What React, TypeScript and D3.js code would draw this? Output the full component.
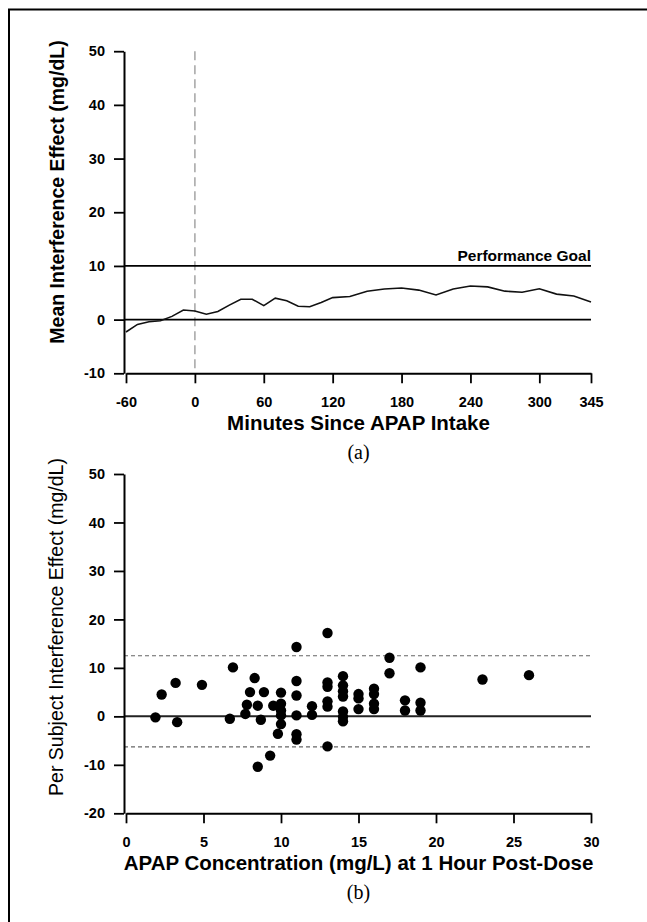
import { useEffect, useRef } from 'react';
import * as d3 from 'd3';

// (a) mean interference effect over time
const minutes = [-60, -50, -40, -30, -20, -10, 0, 10, 20, 30, 40, 50, 60, 70, 80, 90, 100, 110, 120,
  135, 150, 165, 180, 195, 210, 225, 240, 255, 270, 285, 300, 315, 330, 345];
const meanEffect = [-2.3, -0.9, -0.4, -0.2, 0.6, 1.8, 1.6, 1.0, 1.5, 2.7, 3.8, 3.8, 2.6, 4.0, 3.5, 2.5, 2.4, 3.2, 4.1,
  4.3, 5.3, 5.7, 5.9, 5.5, 4.6, 5.7, 6.25, 6.1, 5.3, 5.1, 5.75, 4.75, 4.4, 3.3];
const minuteTicks = [-60, 0, 60, 120, 180, 240, 300, 345];
const effectTicksA = [-10, 0, 10, 20, 30, 40, 50];
const performanceGoal = 10;

// (b) per subject effect vs APAP concentration
const concentration = [1.9, 2.3, 3.2, 3.3, 4.9, 6.9, 6.7, 7.7, 7.8, 8.0, 8.3, 8.5, 8.9, 8.7, 8.5, 9.3, 9.5,
  10, 10, 10, 10, 10, 9.8, 11, 11, 11, 11, 11, 11, 12, 12, 13, 13, 13, 13, 13, 13,
  14, 14, 14, 14, 14, 14, 14, 15, 15, 15, 16, 16, 16, 16, 17, 17, 18, 18, 19, 19, 19, 23, 26];
const subjectEffect = [-0.2, 4.5, 6.9, -1.2, 6.5, 10.1, -0.5, 0.5, 2.4, 5.0, 7.9, 2.2, 5.0, -0.7, -10.4, -8.1, 2.2,
  4.9, 2.6, 1.2, 0.2, -1.6, -3.6, 14.3, 7.3, 4.3, 0.2, -3.7, -4.8, 2.1, 0.3, 17.2, 7.0, 6.1, 3.1, 2.0, -6.2,
  8.3, 6.4, 5.2, 4.1, 1.0, -0.1, -1.0, 4.6, 3.7, 1.5, 5.7, 4.6, 2.6, 1.5, 12.1, 8.9, 3.3, 1.2, 10.1, 2.8, 1.2, 7.6, 8.5];
const concTicks = [0, 5, 10, 15, 20, 25, 30];
const effectTicksB = [-20, -10, 0, 10, 20, 30, 40, 50];
const agreementLimits = [12.5, -6.3];

const W = 647;
const H = 922;
const FONT = "'Liberation Sans', Arial, Helvetica, sans-serif";
const SERIF = "'Liberation Serif', 'Times New Roman', serif";
const AXIS_X = 124;

const plotA = { left: 126, right: 591, top: 51.2, bottom: 373.3 };
const plotB = { left: 126, right: 591, top: 474, bottom: 813.3 };

// plain hyphen for negatives, like the original
const fmt = (d) => String(d);

const styleAxis = (g) => {
  g.attr('font-size', null).attr('font-family', null);
  g.select('.domain').attr('stroke', '#000').attr('stroke-width', 2);
  g.selectAll('.tick line').attr('stroke', '#000').attr('stroke-width', 1.8);
  g.selectAll('.tick text')
    .attr('font-family', FONT)
    .attr('font-size', 14.5)
    .attr('font-weight', 'bold')
    .attr('fill', '#000');
};

export default function App() {
  const xAxisA = useRef(null);
  const yAxisA = useRef(null);
  const xAxisB = useRef(null);
  const yAxisB = useRef(null);

  const xA = d3.scaleLinear().domain([-60, 345]).range([plotA.left, plotA.right]);
  const yA = d3.scaleLinear().domain([-10, 50]).range([plotA.bottom, plotA.top]);
  const xB = d3.scaleLinear().domain([0, 30]).range([plotB.left, plotB.right]);
  const yB = d3.scaleLinear().domain([-20, 50]).range([plotB.bottom, plotB.top]);

  useEffect(() => {
    d3.select(xAxisA.current)
      .call(d3.axisBottom(xA).tickValues(minuteTicks).tickFormat(fmt).tickSize(10).tickSizeOuter(0).tickPadding(13))
      .call(styleAxis);
    d3.select(yAxisA.current)
      .call(d3.axisLeft(yA).tickValues(effectTicksA).tickFormat(fmt).tickSize(10).tickSizeOuter(0).tickPadding(9))
      .call(styleAxis);
    d3.select(xAxisB.current)
      .call(d3.axisBottom(xB).tickValues(concTicks).tickFormat(fmt).tickSize(10).tickSizeOuter(0).tickPadding(13))
      .call(styleAxis);
    d3.select(yAxisB.current)
      .call(d3.axisLeft(yB).tickValues(effectTicksB).tickFormat(fmt).tickSize(10).tickSizeOuter(0).tickPadding(9))
      .call(styleAxis);
  }, []);

  const meanLine = d3.line()
    .x((d, i) => xA(minutes[i]))
    .y((d) => yA(d));

  return (
    <svg width={W} height={H} style={{ position: 'absolute', left: 0, top: 0, background: '#fff' }}>
      <rect x={9} y={9.5} width={W + 20} height={H + 20} fill="none" stroke="#000" strokeWidth={2} />

      {/* (a) */}
      <line x1={xA(0)} x2={xA(0)} y1={yA(50)} y2={yA(-10)}
        stroke="#aaa" strokeWidth={1.6} strokeDasharray="9,5" />
      <line x1={AXIS_X} x2={plotA.right} y1={yA(performanceGoal)} y2={yA(performanceGoal)} stroke="#000" strokeWidth={1.8} />
      <line x1={AXIS_X} x2={plotA.right} y1={yA(0)} y2={yA(0)} stroke="#000" strokeWidth={1.8} />
      <path d={meanLine(meanEffect)} fill="none" stroke="#111" strokeWidth={1.6} />
      <text x={plotA.right} y={yA(performanceGoal) - 5} textAnchor="end"
        fontFamily={FONT} fontWeight="bold" fontSize={15.5}>Performance Goal</text>
      <g ref={xAxisA} transform={`translate(0, ${plotA.bottom})`} />
      <g ref={yAxisA} transform={`translate(${AXIS_X}, 0)`} />
      <text transform={`translate(64, 192) rotate(-90)`} textAnchor="middle"
        fontFamily={FONT} fontWeight="bold" fontSize={19.5}>Mean Interference Effect (mg/dL)</text>
      <text x={(plotA.left + plotA.right) / 2} y={430} textAnchor="middle"
        fontFamily={FONT} fontWeight="bold" fontSize={20.5}>Minutes Since APAP Intake</text>
      <text x={(plotA.left + plotA.right) / 2} y={459} textAnchor="middle"
        fontFamily={SERIF} fontSize={20}>(a)</text>

      {/* (b) */}
      {agreementLimits.map((v) => (
        <line key={v} x1={AXIS_X} x2={plotB.right} y1={yB(v)} y2={yB(v)}
          stroke="#666" strokeWidth={1.1} strokeDasharray="4,3" />
      ))}
      <line x1={AXIS_X} x2={plotB.right} y1={yB(0)} y2={yB(0)} stroke="#222" strokeWidth={2} />
      {concentration.map((c, i) => (
        <circle key={i} cx={xB(c)} cy={yB(subjectEffect[i])} r={5.2} fill="#000" />
      ))}
      <g ref={xAxisB} transform={`translate(0, ${plotB.bottom})`} />
      <g ref={yAxisB} transform={`translate(${AXIS_X}, 0)`} />
      <text transform={`translate(63, 627) rotate(-90)`} textAnchor="middle"
        fontFamily={FONT} fontSize={19.5}>Per Subject Interference Effect (mg/dL)</text>
      <text x={(plotB.left + plotB.right) / 2} y={870} textAnchor="middle"
        fontFamily={FONT} fontWeight="bold" fontSize={20.5}>APAP Concentration (mg/L) at 1 Hour Post-Dose</text>
      <text x={(plotB.left + plotB.right) / 2} y={899} textAnchor="middle"
        fontFamily={SERIF} fontSize={20}>(b)</text>
    </svg>
  );
}
